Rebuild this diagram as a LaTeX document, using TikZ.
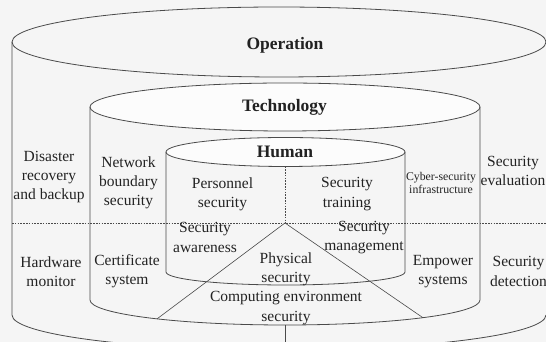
\documentclass[tikz,border=0pt]{standalone}
\usepackage{fontspec}
\setmainfont{Liberation Serif}
\usetikzlibrary{calc}
\definecolor{linegray}{HTML}{4A4A4A}
\definecolor{inkgray}{HTML}{222222}
\definecolor{bgfill}{HTML}{F5F5F5}
\begin{document}
\begin{tikzpicture}[x=1pt,y=1pt,
  rim/.style={draw=linegray, line width=0.8pt},
  divider/.style={draw=linegray, line width=0.6pt, dash pattern=on 1.6pt off 1.2pt},
  ray/.style={draw=linegray, line width=0.6pt},
  layer/.style={font=\fontsize{17.5}{21}\selectfont\bfseries, text=inkgray, inner sep=0pt},
  item/.style={font=\fontsize{15.5}{19.2}\selectfont, text=inkgray, align=center, inner sep=0pt},
  smallitem/.style={font=\fontsize{11.8}{13}\selectfont, text=inkgray, align=center, inner sep=0pt}]
\useasboundingbox (0,0) rectangle (546,342);
\fill[bgfill] (0,0) rectangle (546,342);
\clip (0,0) rectangle (546,342);

% ---- Operation cylinder (outer) ----
\coordinate (optop) at (279,300);
\coordinate (opbot) at (279,27);
\draw[rim] (optop) ellipse [x radius=267pt, y radius=35pt];
\draw[rim] (12,300) -- (12,27)
  arc[start angle=180, end angle=360, x radius=267pt, y radius=35pt];

% ---- Technology cylinder ----
\coordinate (tetop) at (285,235);
\coordinate (tebot) at (285,42);
\fill[white!70!bgfill] (tetop) ellipse [x radius=195pt, y radius=24pt];
\draw[rim] (tetop) ellipse [x radius=195pt, y radius=24pt];
\draw[rim] (90,235) -- (90,42)
  arc[start angle=180, end angle=360, x radius=195pt, y radius=25pt]
  -- (480,235);

% ---- Human cylinder ----
\coordinate (hutop) at (285.5,190);
\coordinate (hubot) at (285.5,70);
\fill[white!70!bgfill] (hutop) ellipse [x radius=119.5pt, y radius=14.5pt];
\draw[rim] (hutop) ellipse [x radius=119.5pt, y radius=14.5pt];
\draw[rim] (166,190) -- (166,70)
  arc[start angle=180, end angle=360, x radius=119.5pt, y radius=13pt]
  -- (405,190);

% ---- dividers ----
\coordinate (apex) at (285,119);
\coordinate (hurim) at (285,175.5);
\coordinate (divL) at (12,119);
\coordinate (divR) at (546,119);
\coordinate (rayL) at ($(tebot)+(229:195pt and 25pt)$);
\coordinate (rayR) at ($(tebot)+(315:195pt and 25pt)$);
\coordinate (teLow) at (285,17);
\coordinate (edge) at (285,0);
\draw[divider] (divL) -- (divR);
\draw[divider] (hurim) -- (apex);
\draw[ray] (apex) -- (rayL);
\draw[ray] (apex) -- (rayR);
\draw[ray] (teLow) -- (edge);

% ---- layer titles ----
\node[layer] (operation) at (285,297) {Operation};
\node[layer] (technology) at (284.5,235) {Technology};
\node[layer] (human) at (285,190) {Human};

% ---- upper half ----
\node[item] (disaster) at (49,165) {Disaster\\recovery\\and backup};
\node[item] (network) at (128.5,159) {Network\\boundary\\security};
\node[item] (personnel) at (222.5,148) {Personnel\\security};
\node[item] (training) at (347,148) {Security\\training};
\node[smallitem] (cyber) at (441,159.5) {Cyber-security\\infrastructure};
\node[item] (evaluation) at (513,171) {Security\\evaluation};

% ---- lower half ----
\node[item] (hardware) at (51,70.5) {Hardware\\monitor};
\node[item] (certificate) at (127,70.5) {Certificate\\system};
\node[item] (awareness) at (205,104.5) {Security\\awareness};
\node[item] (management) at (364,104.5) {Security\\management};
\node[item] (physical) at (286,72.5) {Physical\\security};
\node[item] (computing) at (286,34) {Computing environment\\security};
\node[item] (empower) at (443,70.5) {Empower\\systems};
\node[item] (detection) at (518.5,70.5) {Security\\detection};
\end{tikzpicture}
\end{document}
